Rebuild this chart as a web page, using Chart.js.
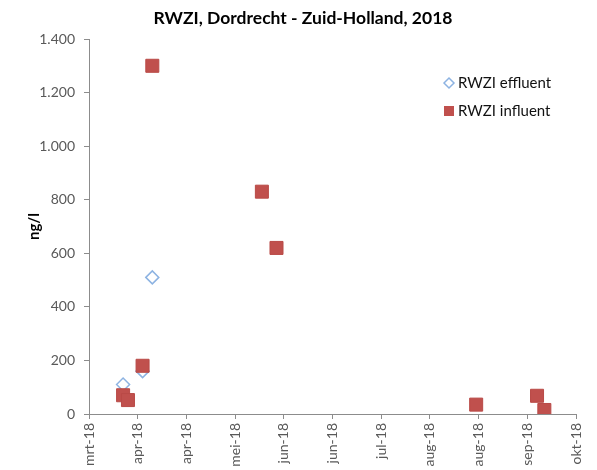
<!DOCTYPE html>
<html>
<head>
<meta charset="utf-8">
<script src="https://cdn.jsdelivr.net/npm/chart.js@4/dist/chart.umd.min.js"></script>
<style>
  html, body { margin: 0; padding: 0; background: #fff; }
  #wrap { width: 597px; height: 470px; }
</style>
</head>
<body>
<div id="wrap"><canvas id="chart" width="597" height="470"></canvas></div>
<script>
const TITLE = 'RWZI, Dordrecht - Zuid-Holland, 2018'
const Y_TITLE = 'ng/l'

const effluentLabel  = 'RWZI effluent'
const effluentDates  = ['2018-04-04', '2018-04-12', '2018-04-16']
const effluentValues = [110, 160, 510]

const influentLabel  = 'RWZI influent'
const influentDates  = ['2018-04-04', '2018-04-06', '2018-04-12', '2018-04-16', '2018-05-31',
                        '2018-06-06', '2018-08-27', '2018-09-21', '2018-09-24']
const influentValues = [70, 52, 180, 1300, 830, 620, 35, 68, 15]

// x axis in Excel date serials: 21-mrt-18 .. 7-okt-18, every 20 days
const X_MIN = 43180
const X_MAX = 43380
const X_STEP = 20
const Y_MAX = 1400
const Y_STEP = 200
const MONTHS = ['jan', 'feb', 'mrt', 'apr', 'mei', 'jun', 'jul', 'aug', 'sep', 'okt', 'nov', 'dec']

const EPOCH = Date.UTC(1899, 11, 30)
const DAY = 86400000

function toSerial(s) {
  const [y, m, d] = s.split('-').map(Number)
  return Math.round((Date.UTC(y, m - 1, d) - EPOCH) / DAY)
}

function serialLabel(v) {
  const d = new Date(EPOCH + v * DAY)
  return MONTHS[d.getUTCMonth()] + '-' + String(d.getUTCFullYear()).slice(2)
}

function thousands(v) {
  return String(v).replace(/\B(?=(\d{3})+(?!\d))/g, '.')
}

const toPoints = (dates, values) => dates.map((d, i) => ({ x: toSerial(d), y: values[i] }))

const EFF_BORDER = '#8db3e2'
const INF_FILL   = '#c0504d'
const AXIS_GREY  = '#8c8c8c'
const TICK_GREY  = '#595959'
const FONT = 'Lato, "Open Sans", sans-serif'

// Excel-style legend inside the plot, top right
const insideLegend = {
  id: 'insideLegend',
  afterDraw(chart) {
    const ctx = chart.ctx
    const x = 449
    const rows = [83, 111]
    ctx.save()
    // diamond
    ctx.beginPath()
    ctx.moveTo(x - 5, rows[0]); ctx.lineTo(x, rows[0] - 5)
    ctx.lineTo(x + 5, rows[0]); ctx.lineTo(x, rows[0] + 5)
    ctx.closePath()
    ctx.fillStyle = '#fff'; ctx.fill()
    ctx.strokeStyle = EFF_BORDER; ctx.lineWidth = 1.5; ctx.stroke()
    // square
    ctx.fillStyle = INF_FILL
    ctx.fillRect(x - 5, rows[1] - 5, 10, 10)

    ctx.fillStyle = '#111'
    ctx.font = '15px ' + FONT
    ctx.textAlign = 'left'
    ctx.textBaseline = 'middle'
    ctx.fillText(effluentLabel, x + 9, rows[0])
    ctx.fillText(influentLabel, x + 9, rows[1])
    ctx.restore()
  }
}

new Chart(document.getElementById('chart'), {
  type: 'scatter',
  data: {
    datasets: [
      {
        label: effluentLabel,
        data: toPoints(effluentDates, effluentValues),
        pointStyle: 'rectRot',
        pointRadius: 6.5,
        pointHoverRadius: 6.5,
        backgroundColor: '#fff',
        borderColor: EFF_BORDER,
        borderWidth: 1.5,
        order: 2
      },
      {
        label: influentLabel,
        data: toPoints(influentDates, influentValues),
        pointStyle: 'rect',
        pointRadius: 9.2,
        pointHoverRadius: 9.2,
        backgroundColor: INF_FILL,
        borderColor: '#b94a47',
        borderWidth: 1,
        order: 1
      }
    ]
  },
  options: {
    responsive: false,
    animation: false,
    layout: { padding: { left: 30, right: 21, top: 0, bottom: 0 } },
    plugins: {
      legend: { display: false },
      tooltip: { enabled: false },
      title: {
        display: true,
        text: TITLE,
        color: '#000',
        font: { family: FONT, size: 17.5, weight: 'bold' },
        padding: { top: 8, bottom: 10 }
      }
    },
    scales: {
      x: {
        type: 'linear',
        min: X_MIN,
        max: X_MAX,
        afterFit: s => { s.height = 56 },
        border: { color: AXIS_GREY },
        grid: { drawOnChartArea: false, drawTicks: true, tickLength: 5, color: AXIS_GREY },
        ticks: {
          stepSize: X_STEP,
          autoSkip: false,
          minRotation: 90,
          maxRotation: 90,
          padding: 4,
          color: TICK_GREY,
          font: { family: FONT, size: 14 },
          callback: v => serialLabel(v)
        }
      },
      y: {
        min: 0,
        max: Y_MAX,
        afterFit: s => { s.width = 59 },
        border: { color: AXIS_GREY },
        grid: { drawOnChartArea: false, drawTicks: true, tickLength: 5, color: AXIS_GREY },
        title: {
          display: true,
          text: Y_TITLE,
          color: '#000',
          font: { family: FONT, size: 15, weight: 'bold' },
          padding: { top: -5, bottom: 0 }
        },
        ticks: {
          stepSize: Y_STEP,
          padding: 9,
          color: TICK_GREY,
          font: { family: FONT, size: 14 },
          callback: v => thousands(v)
        }
      }
    }
  },
  plugins: [insideLegend]
})
</script>
</body>
</html>
